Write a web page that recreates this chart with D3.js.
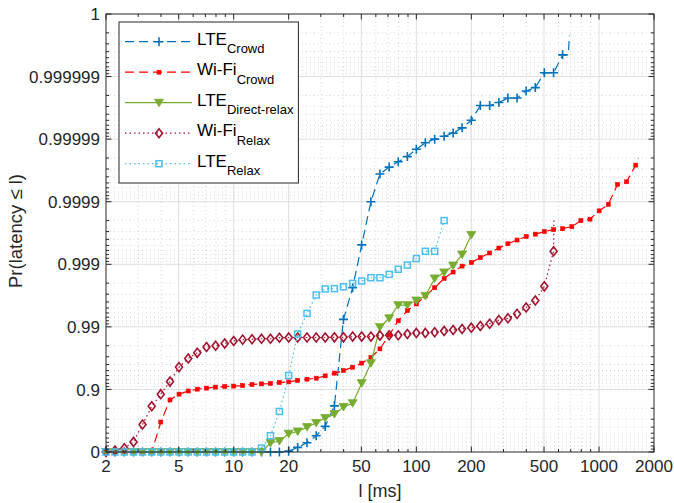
<!DOCTYPE html>
<html>
<head>
<meta charset="utf-8">
<script src="https://cdn.jsdelivr.net/npm/d3@7"></script>
<style>
  body { margin: 0; background: #fff; }
  svg { display: block; font-family: 'Liberation Sans', Arial, Helvetica, sans-serif; }
</style>
</head>
<body>
<div id="graf"></div>
<script>
// CDF de latencia, eje y en escala de "nueves"

// latencias (ms) donde estan los marcadores
latencias = [2.00, 2.24, 2.52, 2.83, 3.17, 3.56, 3.99, 4.48, 5.02, 5.64,
             6.32, 7.10, 7.96, 8.93, 10.0, 11.2, 12.6, 14.2, 15.9, 17.8,
             20.0, 22.4, 25.2, 28.3, 31.7, 35.6, 39.9, 44.8, 50.2, 56.4,
             63.2, 71.0, 79.6, 89.3, 100, 112, 126, 142, 159, 178,
             200, 224, 252, 283, 317, 356, 399, 448, 502, 564,
             632, 710, 796, 893, 1002, 1125, 1262, 1416, 1589]

// Pr(latency <= l) en cada latencia
lteCrowd = [0, 0, 0, 0, 0, 0, 0, 0, 0, 0,
            0, 0, 0, 0, 0, 0, 0, 0, 0, 0,
            0.03, 0.155, 0.29, 0.45, 0.61, 0.817, 0.9924, 0.99763, 0.99951, 0.99990,
            0.999964, 0.999972, 0.999977, 0.999981, 0.9999855, 0.9999886, 0.99999, 0.999991, 0.999992, 0.9999934,
            0.999995, 0.9999971, 0.9999971, 0.9999974, 0.9999978, 0.9999978, 0.9999983, 0.9999985, 0.99999913, 0.99999913,
            0.99999955]
wifiCrowd = [0, 0, 0, 0, 0, 0, 0.668, 0.853, 0.881, 0.894,
             0.901, 0.9047, 0.9082, 0.9101, 0.9115, 0.9133, 0.9164, 0.9185, 0.9195, 0.9224,
             0.9243, 0.9284, 0.9314, 0.9339, 0.9393, 0.945, 0.95, 0.9559, 0.962, 0.969,
             0.9775, 0.9865, 0.992, 0.9945, 0.9957, 0.9968, 0.99763, 0.99832, 0.99867, 0.99893,
             0.99906, 0.99922, 0.99934, 0.99945, 0.99953, 0.99959, 0.99964, 0.99967, 0.9997, 0.99972,
             0.99973, 0.99975, 0.9998, 0.99981, 0.99986, 0.99989, 0.999947, 0.999952, 0.999974]
lteDirect = [0, 0, 0, 0, 0, 0, 0, 0, 0, 0,
             0, 0, 0, 0, 0, 0, 0, 0, 0.281, 0.332,
             0.49, 0.53, 0.6, 0.656, 0.713, 0.752, 0.809, 0.834, 0.9206, 0.9619,
             0.9899, 0.9927, 0.9955, 0.9955, 0.9962, 0.9968, 0.99832, 0.99865, 0.99895, 0.9993,
             0.99966]
wifiRelax = [0, 0.056, 0.13, 0.31, 0.637, 0.814, 0.881, 0.925, 0.956, 0.968,
             0.974, 0.979, 0.98, 0.9815, 0.9832, 0.984, 0.9842, 0.9845, 0.9845, 0.9851,
             0.9852, 0.9852, 0.9852, 0.9852, 0.9852, 0.9853, 0.9853, 0.9857, 0.9857, 0.9857,
             0.9862, 0.9864, 0.9864, 0.987, 0.9875, 0.9875, 0.9878, 0.9884, 0.9888, 0.9892,
             0.9897, 0.9903, 0.9911, 0.9922, 0.9927, 0.9938, 0.9951, 0.9962, 0.99775, 0.99938]
lteRelax = [0, 0, 0, 0, 0, 0, 0, 0, 0, 0,
            0, 0, 0, 0, 0, 0, 0, 0.135, 0.45, 0.775,
            0.94, 0.987, 0.9939, 0.9969, 0.99752, 0.99755, 0.99771, 0.99798, 0.99815, 0.99836,
            0.99836, 0.99855, 0.9988, 0.99897, 0.99919, 0.99938, 0.99938, 0.9998]

// final de cada curva sin marcador [latencia, prob]
lteCrowdCola  = [[680, 0.99999955], [684, 0.9999997], [690, 0.99999978]]
wifiCrowdCola = [[1640, 0.99998]]
wifiRelaxCola = [[566, 0.9998]]

nombres  = ['LTE', 'Wi-Fi', 'LTE', 'Wi-Fi', 'LTE']
subs     = ['Crowd', 'Crowd', 'Direct-relax', 'Relax', 'Relax']

xTicks  = [2, 5, 10, 20, 50, 100, 200, 500, 1000, 2000]
yTicks  = [0, 1, 2, 3, 4, 5, 6, 7]
yLabels = ['0', '0.9', '0.99', '0.999', '0.9999', '0.99999', '0.999999', '1']

datos = [
  { p: lteCrowd,  cola: lteCrowdCola },
  { p: wifiCrowd, cola: wifiCrowdCola },
  { p: lteDirect, cola: [] },
  { p: wifiRelax, cola: wifiRelaxCola },
  { p: lteRelax,  cola: [] }
]

estilos = [
  { color: '#0072BD', dash: '9,5',   marca: 'plus' },
  { color: '#FF0000', dash: '9,5',   marca: 'punto' },
  { color: '#77AC30', dash: null,    marca: 'tri' },
  { color: '#A2142F', dash: '1.5,3', marca: 'diamante' },
  { color: '#4DBEEE', dash: '1.5,3', marca: 'cuadro' }
]

ancho_total = 674
alto_total  = 503
margins = { top: 14, left: 106, right: 20, bottom: 51 }
ancho = ancho_total - margins.left - margins.right
alto  = alto_total - margins.top - margins.bottom

svg = d3.select('#graf').append('svg')
        .attr('width', ancho_total)
        .attr('height', alto_total)

g = svg.append('g')
        .attr('transform', `translate(${ margins.left }, ${ margins.top })`)

// Escaladores
x = d3.scaleLog().domain([2, 2000]).range([0, ancho])
y = d3.scaleLinear().domain([0, 7]).range([alto, 0])
nueves = p => p >= 1 ? 7 : -Math.log10(1 - p)

xMinor = x.ticks().filter(t => !xTicks.some(m => Math.abs(m - t) < 1e-9))
yMinor = []
for (n = 0; n < 7; n++)
  for (k = 2; k <= 9; k++) yMinor.push(n + 1 - Math.log10(k))

// Rejilla
g.selectAll('.vmin').data(xMinor).enter().append('line')
  .attr('x1', d => x(d)).attr('x2', d => x(d))
  .attr('y1', 0).attr('y2', alto)
  .attr('stroke', '#c4c4c4').attr('stroke-width', 0.7).attr('stroke-dasharray', '1,3')
g.selectAll('.hmin').data(yMinor).enter().append('line')
  .attr('x1', 0).attr('x2', ancho)
  .attr('y1', d => y(d)).attr('y2', d => y(d))
  .attr('stroke', '#c4c4c4').attr('stroke-width', 0.7).attr('stroke-dasharray', '1,3')
g.selectAll('.vmaj').data(xTicks.slice(1, -1)).enter().append('line')
  .attr('x1', d => x(d)).attr('x2', d => x(d))
  .attr('y1', 0).attr('y2', alto)
  .attr('stroke', '#dedede').attr('stroke-width', 1)
g.selectAll('.hmaj').data(yTicks.slice(1, -1)).enter().append('line')
  .attr('x1', 0).attr('x2', ancho)
  .attr('y1', d => y(d)).attr('y2', d => y(d))
  .attr('stroke', '#dedede').attr('stroke-width', 1)

g.append('clipPath').attr('id', 'clip')
  .append('rect').attr('x', 0).attr('y', 0).attr('width', ancho).attr('height', alto)

linea = d3.line().x(d => x(d[0])).y(d => y(nueves(d[1])))

function marcador(sel, tipo, color) {
  if (tipo == 'plus')
    sel.append('path').attr('d', 'M-4.5,0H4.5M0,-4.5V4.5')
      .attr('stroke', color).attr('stroke-width', 1.6).attr('fill', 'none')
  else if (tipo == 'punto')
    sel.append('rect').attr('x', -2).attr('y', -2).attr('width', 4).attr('height', 4)
      .attr('fill', color).attr('stroke', color).attr('stroke-width', 0.6)
  else if (tipo == 'tri')
    sel.append('path').attr('d', 'M-4.5,-3.5L4.5,-3.5L0,4Z')
      .attr('fill', color).attr('stroke', color).attr('stroke-width', 0.8)
  else if (tipo == 'diamante')
    sel.append('path').attr('d', 'M0,-4.5L3.5,0L0,4.5L-3.5,0Z')
      .attr('fill', 'none').attr('stroke', color).attr('stroke-width', 1.6)
  else
    sel.append('rect').attr('x', -3).attr('y', -3).attr('width', 6).attr('height', 6)
      .attr('fill', 'none').attr('stroke', color).attr('stroke-width', 1.5)
}

datos.forEach((s, i) => {
  st = estilos[i]
  pts = s.p.map((p, j) => [latencias[j], p])
  g.append('path')
    .attr('d', linea(pts.concat(s.cola)))
    .attr('fill', 'none')
    .attr('stroke', st.color)
    .attr('stroke-width', 1.2)
    .attr('stroke-dasharray', st.dash)
    .attr('clip-path', 'url(#clip)')
  pts.forEach(d => {
    m = g.append('g').attr('transform', `translate(${ x(d[0]) }, ${ y(nueves(d[1])) })`)
    marcador(m, st.marca, st.color)
  })
})

// Ejes (caja con ticks hacia adentro)
eje = '#262626'
g.append('rect').attr('x', 0).attr('y', 0).attr('width', ancho).attr('height', alto)
  .attr('fill', 'none').attr('stroke', eje).attr('stroke-width', 1)

function ticksX(vals, largo) {
  vals.forEach(v => {
    g.append('line').attr('x1', x(v)).attr('x2', x(v)).attr('y1', alto).attr('y2', alto - largo)
      .attr('stroke', eje)
    g.append('line').attr('x1', x(v)).attr('x2', x(v)).attr('y1', 0).attr('y2', largo)
      .attr('stroke', eje)
  })
}
function ticksY(vals, largo) {
  vals.forEach(v => {
    g.append('line').attr('y1', y(v)).attr('y2', y(v)).attr('x1', 0).attr('x2', largo)
      .attr('stroke', eje)
    g.append('line').attr('y1', y(v)).attr('y2', y(v)).attr('x1', ancho).attr('x2', ancho - largo)
      .attr('stroke', eje)
  })
}
ticksX(xTicks, 5.5)
ticksX(xMinor, 3)
ticksY(yTicks, 5.5)
ticksY(yMinor, 3)

g.selectAll('.xlab').data(xTicks).enter().append('text')
  .attr('x', d => x(d)).attr('y', alto + 20)
  .attr('text-anchor', 'middle').attr('font-size', '17px').attr('fill', eje)
  .text(d => d)
g.selectAll('.ylab').data(yTicks).enter().append('text')
  .attr('x', -6).attr('y', d => y(d)).attr('dy', '0.36em')
  .attr('text-anchor', 'end').attr('font-size', '17px').attr('fill', eje)
  .text((d, i) => yLabels[i])

svg.append('text')
  .attr('x', margins.left + ancho / 2).attr('y', 497)
  .attr('text-anchor', 'middle').attr('font-size', '18px').attr('fill', eje)
  .text('l [ms]')
svg.append('text')
  .attr('transform', `translate(22, ${ margins.top + alto / 2 - 2 }) rotate(-90)`)
  .attr('text-anchor', 'middle').attr('font-size', '18.5px').attr('fill', eje)
  .text('Pr(latency \u2264 l)')

// Leyenda
leg = svg.append('g')
caja = leg.append('rect')
  .attr('x', 119).attr('y', 22).attr('height', 161)
  .attr('fill', 'white').attr('stroke', eje).attr('stroke-width', 1)

maxFin = 0
estilos.forEach((st, i) => {
  yy = 41.7 + i * 30.5
  leg.append('line').attr('x1', 125).attr('x2', 192).attr('y1', yy).attr('y2', yy)
    .attr('stroke', st.color).attr('stroke-width', 1.2).attr('stroke-dasharray', st.dash)
  m = leg.append('g').attr('transform', `translate(159, ${ yy })`)
  marcador(m, st.marca, st.color)
  t = leg.append('text').attr('x', 197).attr('y', yy + 3)
        .attr('font-size', '17px').attr('fill', '#000')
  t.append('tspan').text(nombres[i])
  t.append('tspan').attr('font-size', '13px').attr('dy', 8.3).text(subs[i])
  maxFin = Math.max(maxFin, 197 + t.node().getComputedTextLength())
})
caja.attr('width', maxFin + 5 - 119)
</script>
</body>
</html>
